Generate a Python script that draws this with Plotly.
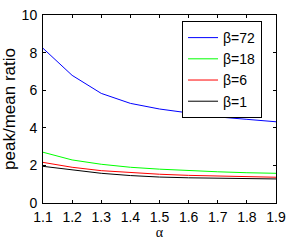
import plotly.graph_objects as go

alpha = [1.1, 1.2, 1.3, 1.4, 1.5, 1.6, 1.7, 1.8, 1.9]
beta72 = [8.23, 6.79, 5.83, 5.30, 5.00, 4.78, 4.58, 4.45, 4.32]
beta18 = [2.70, 2.29, 2.06, 1.90, 1.80, 1.72, 1.66, 1.61, 1.58]
beta6 = [2.16, 1.90, 1.72, 1.61, 1.53, 1.47, 1.43, 1.40, 1.37]
beta1 = [1.95, 1.75, 1.58, 1.46, 1.38, 1.34, 1.31, 1.29, 1.28]

series = [("β=72", beta72, "#0000ff"), ("β=18", beta18, "#00ff00"),
          ("β=6", beta6, "#ff0000"), ("β=1", beta1, "#000000")]

fig = go.Figure()
for name, ys, col in series:
    fig.add_trace(go.Scatter(x=alpha, y=ys, mode="lines", name=name,
                             line=dict(color=col, width=1)))

font = dict(family="Liberation Sans, Arial, sans-serif", size=14, color="black")
axis_common = dict(showgrid=False, zeroline=False, showline=True, linecolor="black",
                   linewidth=1, mirror="ticks", ticks="inside", ticklen=3,
                   tickcolor="black", tickfont=font, automargin=False,
                   ticklabeloverflow="allow")
fig.update_layout(
    width=291, height=240,
    margin=dict(l=43, r=15, t=15, b=37),
    paper_bgcolor="white", plot_bgcolor="white",
    font=font,
    showlegend=True,
    legend=dict(x=0.94, y=0.968, xanchor="right", yanchor="top",
                bordercolor="black", borderwidth=1, bgcolor="white",
                font=dict(family="Liberation Sans, Arial, sans-serif", size=14),
                tracegroupgap=0, itemwidth=30),
    xaxis=dict(range=[1.1, 1.9], tickvals=alpha,
               ticktext=[f"{a:.1f}" for a in alpha], ticklabelstandoff=1,
               title=dict(text="α", standoff=8,
                          font=dict(family="Liberation Serif, serif", size=14)),
               **axis_common),
    yaxis=dict(range=[0, 10], tickvals=[0, 2, 4, 6, 8, 10], ticklabelstandoff=2,
               title=dict(text="peak/mean ratio", standoff=4), **axis_common),
)
fig.write_html("out.html", config={"displayModeBar": False},
               post_script="document.body.style.margin='0';document.body.style.overflow='hidden';")
